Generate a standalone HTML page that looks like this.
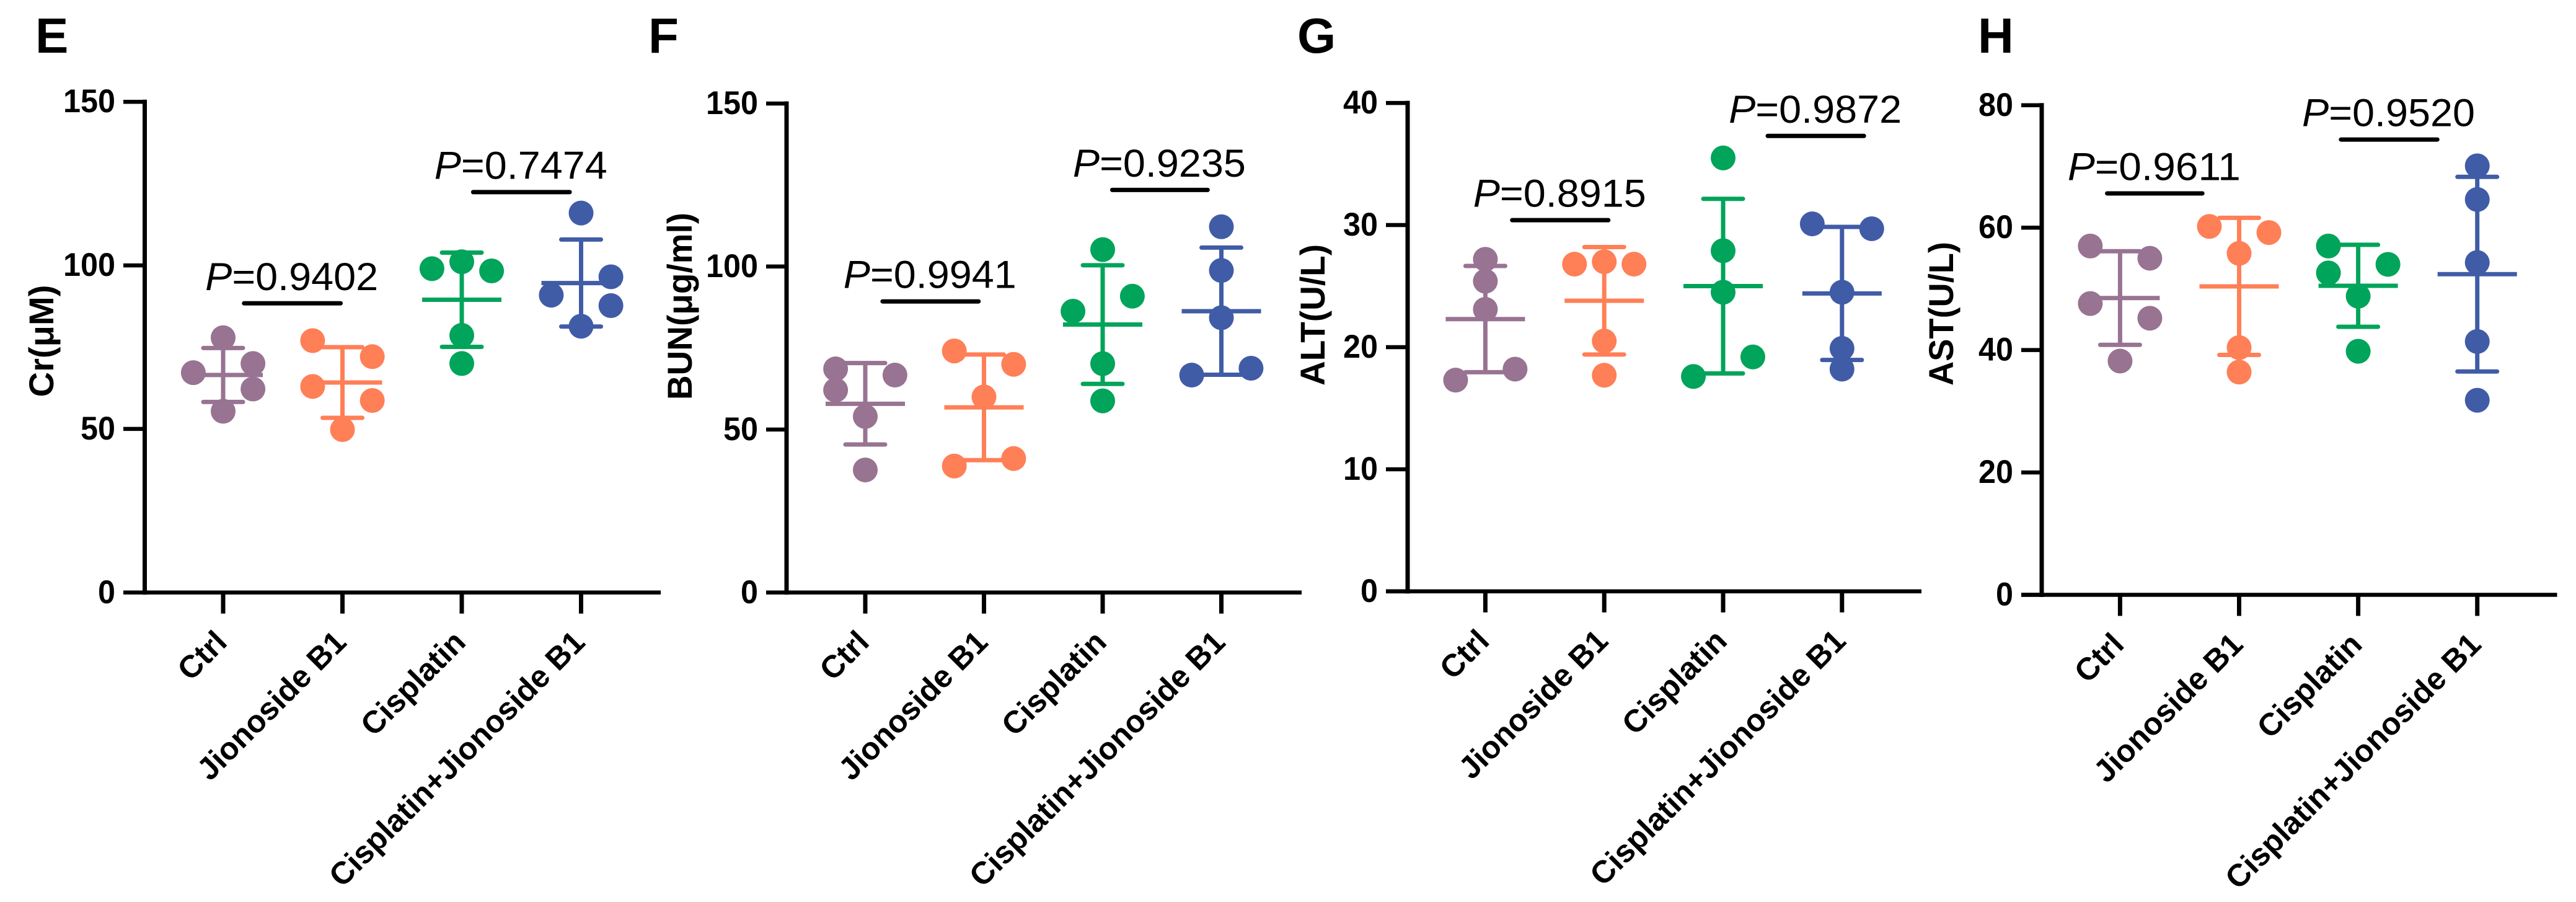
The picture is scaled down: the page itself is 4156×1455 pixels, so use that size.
<!DOCTYPE html>
<html lang="en">
<head>
<meta charset="utf-8">
<title>Serum markers scatter panels E-H</title>
<style>
html,body{margin:0;padding:0;background:#fff;width:4156px;height:1455px;overflow:hidden}
svg{display:block}
text{font-family:"Liberation Sans",Arial,sans-serif;fill:#000}
</style>
</head>
<body>
<svg id="figure" xmlns="http://www.w3.org/2000/svg" width="4156" height="1455" viewBox="0 0 4156 1455"></svg>
<script>
const categories = ['Ctrl', 'Jionoside B1', 'Cisplatin', 'Cisplatin+Jionoside B1'];
const groupColors = ['#987392', '#ff7f57', '#00a45a', '#405ca6'];

const eTicks = [0, 50, 100, 150];
const eValues = [[77.9, 67.2, 70, 62.2, 55.4], [77, 72.1, 63, 58.7, 49.8], [99, 101.1, 98.3, 78.6, 70], [116, 90.9, 96.5, 87.7, 81.4]];
const eSlots = [[0, -1, 1, 1, 0], [-1, 1, -1, 1, 0], [-1, 0, 1, 0, 0], [0, -1, 1, 1, 0]];
const eMeans = [66.5, 64.2, 89.5, 94.6];
const eSds = [8.25, 10.8, 14.4, 13.3];
const ePLabels = ['0.9402', '0.7474'];
const ePLevels = [88.4, 122.4];

const fTicks = [0, 50, 100, 150];
const fValues = [[68.6, 66.7, 62.1, 54, 37.6], [74.1, 70, 60, 38.8, 41.1], [105.2, 90.9, 86.3, 70.2, 58.8], [112.2, 98.8, 84.3, 66.7, 68.8]];
const fSlots = [[-1, 1, -1, 0, 0], [-1, 1, 0, -1, 1], [0, 1, -1, 0, 0], [0, 0, 0, -1, 1]];
const fMeans = [57.9, 56.8, 82.2, 86.3];
const fSds = [12.5, 16.2, 18.2, 19.5];
const fPLabels = ['0.9941', '0.9235'];
const fPLevels = [89.3, 123.5];

const gTicks = [0, 10, 20, 30, 40];
const gValues = [[27.2, 25.4, 23.1, 17.3, 18.2], [26.8, 27, 26.8, 20.5, 17.7], [35.5, 27.9, 24.5, 17.6, 19.2], [30.1, 29.7, 24.5, 19.9, 18.2]];
const gSlots = [[0, 0, 0, -1, 1], [-1, 0, 1, 0, 0], [0, 0, 0, -1, 1], [-1, 1, 0, 0, 0]];
const gMeans = [22.3, 23.8, 25, 24.4];
const gSds = [4.35, 4.4, 7.15, 5.45];
const gPLabels = ['0.8915', '0.9872'];
const gPLevels = [30.4, 37.3];

const hTicks = [0, 20, 40, 60, 80];
const hValues = [[57, 55, 47.6, 45.2, 38.2], [60.2, 59.2, 55.8, 40.4, 36.4], [57, 52.6, 54, 48.8, 39.8], [70.1, 64.6, 54.3, 41.4, 31.8]];
const hSlots = [[-1, 1, -1, 1, 0], [-1, 1, 0, 0, 0], [-1, -1, 1, 0, 0], [0, 0, 0, 0, 0]];
const hMeans = [48.5, 50.4, 50.5, 52.4];
const hSds = [7.65, 11.2, 6.7, 15.9];
const hPLabels = ['0.9611', '0.9520'];
const hPLevels = [65.6, 74.4];

const panels = [
  {id: 'e', letter: 'E', letterX: 57, yTitle: 'Cr(\u03bcM)', axisX: 233.5, top: 164.2, bottom: 955.8, tickLeft: 199, xEnd: 1066, firstCat: 360, step: 192.5, titleX: 86, titleY: 550, titleLen: 181, ticks: eTicks, values: eValues, slots: eSlots, means: eMeans, sds: eSds, pLabels: ePLabels, pLevels: ePLevels, pSpans: [[0.16, 1.0], [2.08, 2.92]]},
  {id: 'f', letter: 'F', letterX: 1046, yTitle: 'BUN(\u03bcg/ml)', axisX: 1269, top: 167, bottom: 955.8, tickLeft: 1236, xEnd: 2100, firstCat: 1396, step: 191.5, titleX: 1116, titleY: 494, titleLen: 302, ticks: fTicks, values: fValues, slots: fSlots, means: fMeans, sds: fSds, pLabels: fPLabels, pLevels: fPLevels, pSpans: [[0.13, 0.97], [2.065, 2.9]]},
  {id: 'g', letter: 'G', letterX: 2093, yTitle: 'ALT(U/L)', axisX: 2271, top: 166.1, bottom: 953.9, tickLeft: 2236, xEnd: 3100, firstCat: 2396.4, step: 191.8, titleX: 2137, titleY: 508, titleLen: 228, ticks: gTicks, values: gValues, slots: gSlots, means: gMeans, sds: gSds, pLabels: gPLabels, pLevels: gPLevels, pSpans: [[0.21, 1.05], [2.36, 3.2]]},
  {id: 'h', letter: 'H', letterX: 3191, yTitle: 'AST(U/L)', axisX: 3294, top: 169.8, bottom: 959.5, tickLeft: 3261, xEnd: 4125.5, firstCat: 3420.4, step: 192.1, titleX: 3151, titleY: 506, titleLen: 232, ticks: hTicks, values: hValues, slots: hSlots, means: hMeans, sds: hSds, pLabels: hPLabels, pLevels: hPLevels, pSpans: [[-0.124, 0.707], [1.84, 2.68]]}
];

const SVG_NS = 'http://www.w3.org/2000/svg';
const figure = document.getElementById('figure');

function make(tag, attrs, parent) {
  const el = document.createElementNS(SVG_NS, tag);
  Object.keys(attrs).forEach(function (k) { el.setAttribute(k, attrs[k]); });
  parent.appendChild(el);
  return el;
}
function yScaleFor(p) {
  const maxTick = p.ticks[p.ticks.length - 1];
  return function (v) { return p.bottom - (v / maxTick) * (p.bottom - p.top); };
}
function xScaleFor(p) {
  return function (pos) { return p.firstCat + pos * p.step; };
}

panels.forEach(function (p) {
  const y = yScaleFor(p);
  const x = xScaleFor(p);
  const g = make('g', {}, figure);
  
  

  const letter = make('text', {x: p.letterX, y: 85, 'font-size': 80, 'font-weight': 700}, g);
  letter.textContent = p.letter;
  
  

  const yAxis = make('line', {x1: p.axisX, x2: p.axisX, y1: p.top - 3.5, y2: p.bottom + 3.5, stroke: '#000', 'stroke-width': 7}, g);
  
  

  const xAxis = make('line', {x1: p.tickLeft, x2: p.xEnd, y1: p.bottom, y2: p.bottom, stroke: '#000', 'stroke-width': 6.5}, g);
  
  

  const yTitle = make('text', {transform: 'translate(' + p.titleX + ' ' + p.titleY + ') rotate(-90)', 'text-anchor': 'middle', 'font-size': 56, 'font-weight': 700, textLength: p.titleLen, lengthAdjust: 'spacingAndGlyphs'}, g);
  yTitle.textContent = p.yTitle;
  
  

  p.ticks.forEach(function (t) {
    const tick = make('line', {x1: p.tickLeft, x2: p.axisX, y1: y(t), y2: y(t), stroke: '#000', 'stroke-width': 6.5}, g);
    
    

    const label = String(t);
    const tl = make('text', {x: p.tickLeft - 13, y: y(t) + 17, 'text-anchor': 'end', 'font-size': 52.5, 'font-weight': 700, textLength: 28 * label.length, lengthAdjust: 'spacingAndGlyphs'}, g);
    tl.textContent = label;
    
    
  });

  categories.forEach(function (cat, i) {
    const cx = x(i);
    const tick = make('line', {x1: cx, x2: cx, y1: p.bottom, y2: p.bottom + 34, stroke: '#000', 'stroke-width': 7}, g);
    
    

    const cl = make('text', {transform: 'translate(' + (cx + 9) + ' ' + (p.bottom + 83) + ') rotate(-45)', 'text-anchor': 'end', 'font-size': 50.6, 'font-weight': 700}, g);
    cl.textContent = cat;
    
    

    const color = groupColors[i];
    const group = make('g', {}, g);
    
    

    const mean = p.means[i];
    const sd = p.sds[i];

    const stem = make('line', {x1: cx, x2: cx, y1: y(mean + sd), y2: y(mean - sd), stroke: color, 'stroke-width': 7}, group);
    
    

    const capTop = make('line', {x1: cx - 32, x2: cx + 32, y1: y(mean + sd), y2: y(mean + sd), stroke: color, 'stroke-width': 7, 'stroke-linecap': 'round'}, group);
    
    

    const capBottom = make('line', {x1: cx - 32, x2: cx + 32, y1: y(mean - sd), y2: y(mean - sd), stroke: color, 'stroke-width': 7, 'stroke-linecap': 'round'}, group);
    
    

    const meanLine = make('line', {x1: cx - 64, x2: cx + 64, y1: y(mean), y2: y(mean), stroke: color, 'stroke-width': 7}, group);
    
    

    p.values[i].forEach(function (v, k) {
      const dot = make('circle', {cx: x(i + p.slots[i][k] * 0.25), cy: y(v), r: 20, fill: color}, group);
      
      
    });
  });

  p.pLabels.forEach(function (lab, j) {
    const span = p.pSpans[j];
    const x1 = x(span[0]);
    const x2 = x(span[1]);
    const by = y(p.pLevels[j]);
    const bar = make('line', {x1: x1 + 3, x2: x2 - 3, y1: by, y2: by, stroke: '#000', 'stroke-width': 7, 'stroke-linecap': 'round'}, g);
    
    

    const pt = make('text', {x: (x1 + x2) / 2 - 1, y: by - 21.5, 'text-anchor': 'middle', 'font-size': 63, textLength: 279, lengthAdjust: 'spacingAndGlyphs'}, g);
    
    
    const it = make('tspan', {'font-style': 'italic'}, pt);
    it.textContent = 'P';
    pt.appendChild(document.createTextNode('=' + lab));
  });
});
</script>
</body>
</html>
